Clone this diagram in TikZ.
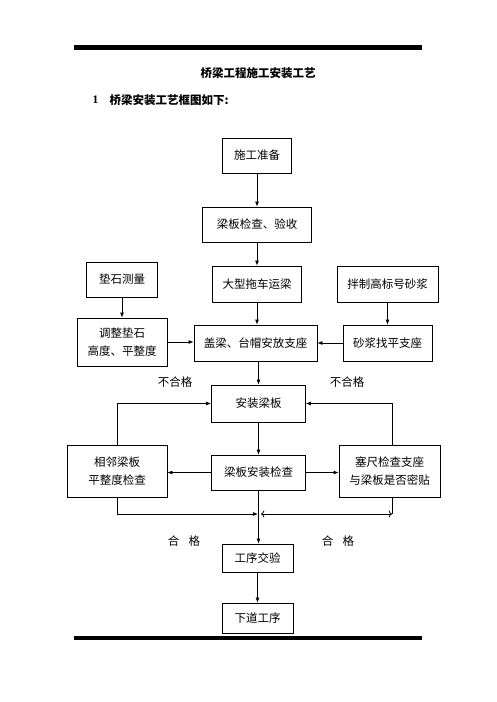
\documentclass[tikz,border=0pt]{standalone}
\usepackage{fontspec}
\setmainfont{Liberation Serif}
\newfontfamily\cjk{Noto Sans CJK SC}
\usetikzlibrary{arrows.meta}

\begin{document}
\begin{tikzpicture}[x=1pt,y=-1pt,line width=0.8pt,
	box/.style={draw,align=center,inner sep=0pt,font=\cjk\fontsize{11.5}{17.5}\selectfont},
	lbl/.style={font=\cjk\fontsize{11.5}{14}\selectfont},
	->/.style={-{Latex[length=5pt,width=4pt]}}]
		\useasboundingbox (0,0) rectangle (496,702);
		\fill (74,45) rectangle (422,49.5);
		\fill (74,635.5) rectangle (422,639.5);
		\node[font=\cjk\bfseries\fontsize{11.5}{14}\selectfont](ttl) at (258,73) {桥梁工程施工安装工艺};
		\node[anchor=west,font=\bfseries\fontsize{11.5}{14}\selectfont](num) at (89,100) {1};
		\node[anchor=west,font=\cjk\bfseries\fontsize{11.5}{14}\selectfont](sub) at (106,100) {桥梁安装工艺框图如下:};
		\node[box,minimum width=69,minimum height=35](prep) at (257,155.5) {施工准备};
		\node[box,minimum width=109,minimum height=35](chk) at (257,224.5) {梁板检查、验收};
		\node[box,minimum width=89,minimum height=36](trans) at (257,284) {大型拖车运梁};
		\node[box,minimum width=71,minimum height=35](meas) at (122,279.5) {垫石测量};
		\node[box,minimum width=101,minimum height=36](mix) at (387.5,284) {拌制高标号砂浆};
		\node[box,minimum width=90,minimum height=48](adj) at (122,342) {调整垫石\\高度、平整度};
		\node[box,minimum width=123,minimum height=36](seat) at (255.5,343) {盖梁、台帽安放支座};
		\node[box,minimum width=89,minimum height=36](lev) at (387.5,343) {砂浆找平支座};
		\node[box,minimum width=94,minimum height=37](inst) at (258.5,403.5) {安装梁板};
		\node[box,minimum width=94,minimum height=35](test) at (258.5,472.5) {梁板安装检查};
		\node[box,minimum width=100,minimum height=52](nb) at (117,471) {相邻梁板\\平整度检查};
		\node[box,minimum width=101,minimum height=52](gap) at (389.5,471) {塞尺检查支座\\与梁板是否密贴};
		\node[box,minimum width=71,minimum height=28](acc) at (257.5,558) {工序交验};
		\node[box,minimum width=71,minimum height=30](next) at (257.5,618) {下道工序};
		\node[lbl](ng1) at (175,382) {不合格};
		\node[lbl](ng2) at (347,382) {不合格};
		\node[lbl](ok1) at (184,541) {合\hspace{0.8em}格};
		\node[lbl](ok2) at (338,541) {合\hspace{0.8em}格};
		\coordinate (j) at (258,514);
		\coordinate (k) at (392,514);
		\draw[->] (prep) -- (prep |- chk.north);
		\draw[->] (chk) -- (chk |- trans.north);
		\draw[->] (trans) -- (trans |- seat.north);
		\draw[->] (meas) -- (meas |- adj.north);
		\draw[->] (mix) -- (mix |- lev.north);
		\draw[->] (adj.east) -- (adj.east -| seat.west);
		\draw[->] (lev.west) -- (lev.west -| seat.east);
		\draw[->] (seat.south -| inst) -- (inst.north);
		\draw[->] (inst) -- (inst |- test.north);
		\draw[->] (test.west) -- (test.west -| nb.east);
		\draw[->] (test.east) -- (test.east -| gap.west);
		\draw[->] (nb.north) |- (inst.west);
		\draw[->] (gap.north -| k) |- (inst.east);
		\draw[->] (nb.south) |- (j);
		\draw (gap.south -| k) -- (k);
		\draw[<->,shorten <=3pt] (j) -- (k);
		\draw[->] (test.south) -- (test.south |- acc.north);
		\draw[->] (acc) -- (acc |- next.north);
	\end{tikzpicture}
\end{document}
